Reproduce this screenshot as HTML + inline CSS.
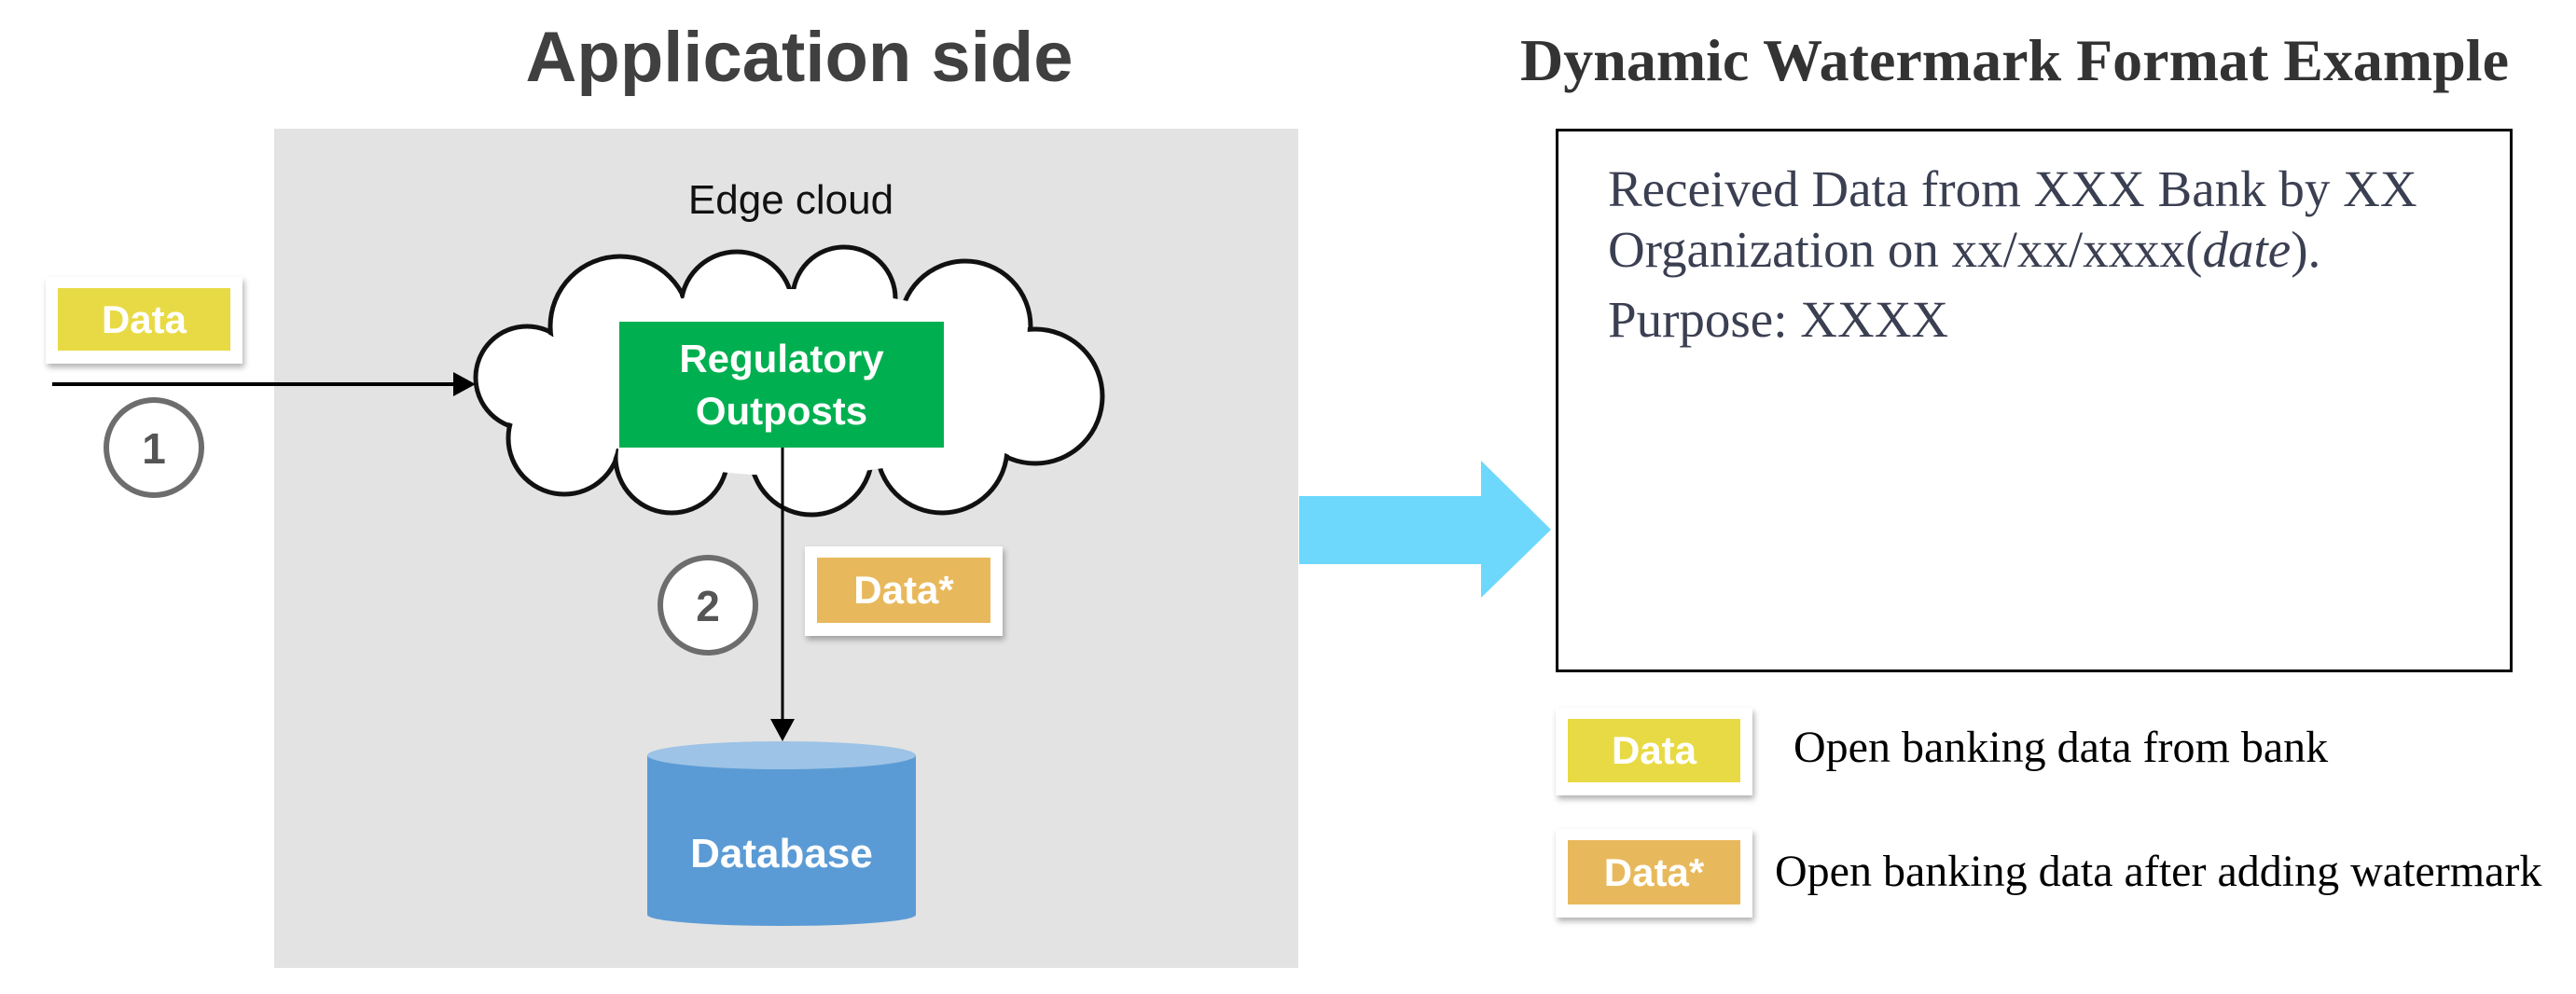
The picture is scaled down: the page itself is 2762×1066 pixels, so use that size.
<!DOCTYPE html>
<html><head><meta charset="utf-8"><style>
body{margin:0;width:2762px;height:1066px;background:#fff;position:relative;overflow:hidden;font-family:"Liberation Sans",sans-serif}
.a{position:absolute}
.tag{position:absolute;background:#fff;box-shadow:2px 4px 6px rgba(0,0,0,.3)}
.tag div{position:absolute;left:13px;top:12px;right:13px;bottom:14px;color:#fff;font-weight:bold;display:flex;align-items:center;justify-content:center;font-size:42px}
.serif{font-family:"Liberation Serif",serif}
</style></head><body>
<div class="a" style="left:0;top:18px;width:1714px;text-align:center;font-size:76px;font-weight:bold;color:#404040">Application side</div>
<div class="a" style="left:294px;top:138px;width:1098px;height:900px;background:#e3e3e3"></div>
<div class="a" style="left:648px;top:190px;width:400px;text-align:center;font-size:44px;color:#111">Edge cloud</div>
<svg class="a" style="left:0;top:0" width="2762" height="1066">
<g stroke="#111" stroke-width="5" fill="#fff">
<circle cx="565" cy="405" r="55"/><circle cx="605" cy="470" r="60"/><circle cx="665" cy="350" r="75"/><circle cx="790" cy="330" r="60"/><circle cx="905" cy="320" r="55"/><circle cx="1035" cy="350" r="70"/><circle cx="1110" cy="425" r="72"/><circle cx="1010" cy="480" r="70"/><circle cx="870" cy="487" r="65"/><circle cx="720" cy="490" r="60"/>
</g>
<g fill="#fff">
<circle cx="565" cy="405" r="52"/><circle cx="605" cy="470" r="57"/><circle cx="665" cy="350" r="72"/><circle cx="790" cy="330" r="57"/><circle cx="905" cy="320" r="52"/><circle cx="1035" cy="350" r="67"/><circle cx="1110" cy="425" r="69"/><circle cx="1010" cy="480" r="67"/><circle cx="870" cy="487" r="62"/><circle cx="720" cy="490" r="57"/>
<ellipse cx="845" cy="410" rx="260" ry="100"/>
</g>
<line x1="56" y1="412" x2="490" y2="412" stroke="#000" stroke-width="4"/>
<polygon points="510,412 486,399 486,425" fill="#000"/>
<line x1="839" y1="480" x2="839" y2="775" stroke="#000" stroke-width="3"/>
<polygon points="839,795 826,771 852,771" fill="#000"/>
<circle cx="165" cy="480" r="51" fill="#fff" stroke="#6d6d6d" stroke-width="6"/>
<text x="165" y="497" text-anchor="middle" font-size="46" font-weight="bold" fill="#555" font-family="Liberation Sans">1</text>
<circle cx="759" cy="649" r="51" fill="#fff" stroke="#6d6d6d" stroke-width="6"/>
<text x="759" y="666" text-anchor="middle" font-size="46" font-weight="bold" fill="#555" font-family="Liberation Sans">2</text>
<rect x="694" y="810" width="288" height="171" fill="#5b9bd5"/>
<ellipse cx="838" cy="981" rx="144" ry="12" fill="#5b9bd5"/>
<ellipse cx="838" cy="810" rx="144" ry="15" fill="#9dc3e6"/>
<text x="838" y="930" text-anchor="middle" font-size="44" font-weight="bold" fill="#fff" font-family="Liberation Sans">Database</text>
<polygon points="1393,532 1588,532 1588,494 1663,568 1588,641 1588,605 1393,605" fill="#6dd8fc"/>
</svg>
<div class="a" style="left:664px;top:345px;width:348px;height:135px;background:#00b050;color:#fff;font-weight:bold;font-size:42px;text-align:center;line-height:56px;padding-top:12px;box-sizing:border-box">Regulatory<br>Outposts</div>
<div class="tag" style="left:49px;top:297px;width:211px;height:93px"><div style="background:#e8da44">Data</div></div>
<div class="tag" style="left:863px;top:586px;width:212px;height:96px"><div style="background:#e8b95c">Data*</div></div>
<div class="a serif" style="left:1560px;top:28px;width:1200px;text-align:center;font-size:64px;font-weight:bold;color:#333">Dynamic Watermark Format Example</div>
<div class="a" style="left:1668px;top:138px;width:1026px;height:583px;border:3px solid #000;box-sizing:border-box"></div>
<div class="a serif" style="left:1724px;top:170px;font-size:55px;color:#3b3f52;line-height:65px;white-space:nowrap">Received Data from XXX Bank by XX<br>Organization on xx/xx/xxxx(<i>date</i>).<div style="margin-top:10px">Purpose: XXXX</div></div>
<div class="tag" style="left:1668px;top:759px;width:211px;height:94px"><div style="background:#e8da44">Data</div></div>
<div class="a serif" style="left:1923px;top:774px;font-size:48px;color:#000;white-space:nowrap">Open banking data from bank</div>
<div class="tag" style="left:1668px;top:889px;width:211px;height:95px"><div style="background:#e8b95c">Data*</div></div>
<div class="a serif" style="left:1903px;top:907px;font-size:48px;color:#000;white-space:nowrap">Open banking data after adding watermark</div>
</body></html>
